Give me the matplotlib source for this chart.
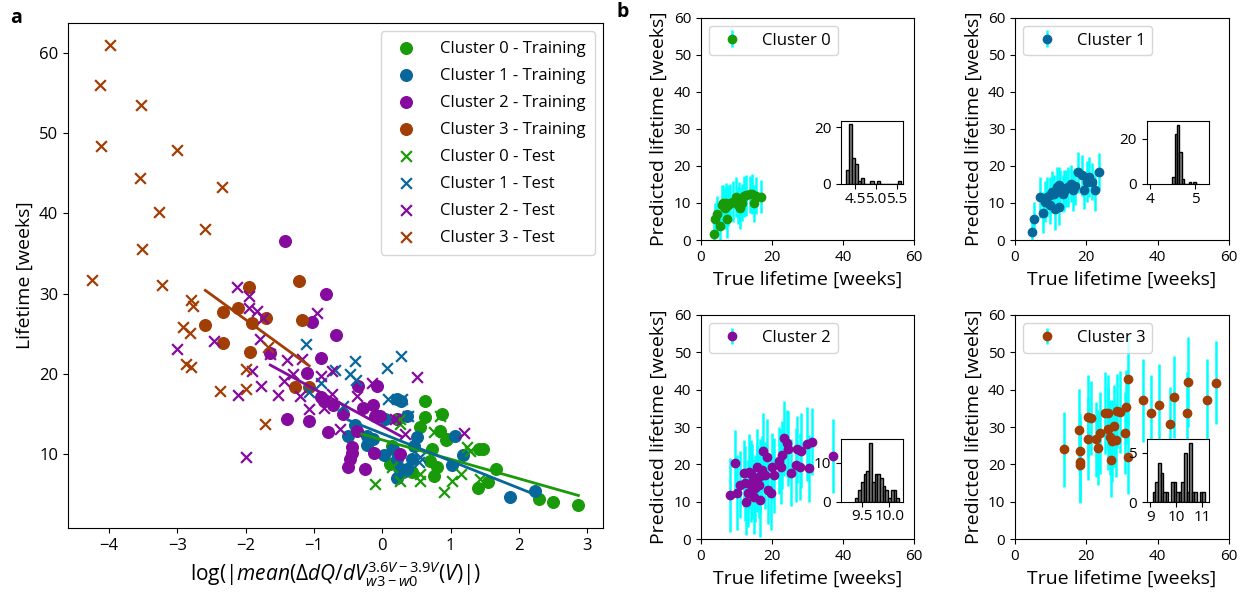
import numpy as np
import matplotlib
matplotlib.use("Agg")
import matplotlib.pyplot as plt

plt.rcParams["font.family"] = ["Open Sans", "DejaVu Sans"]
plt.rcParams["mathtext.fontset"] = "custom"
plt.rcParams["mathtext.rm"] = "Open Sans"
plt.rcParams["mathtext.it"] = "Open Sans:italic"

colors = ["#199a08", "#08679a", "#850a9e", "#a13e05"]

# ---- panel a: training / test points per cluster ----
c0_train_x = [0.62, 0.87, 0.63, 0.55, 0.85, 0.93, 0.73, 1.48, 0.11, 0.43, 0.70, 0.80, 0.75, 1.67, 1.55, 1.40, 2.30, 2.50, 2.87, 0.14, 1.41, 0.95]
c0_train_y = [16.65, 15.0, 14.6, 13.35, 12.9, 11.7, 10.65, 10.7, 8.8, 7.75, 9.2, 8.4, 7.3, 8.2, 6.5, 5.8, 4.4, 4.1, 3.7, 11.05, 10.6, 11.9]
c0_test_x = [-0.11, 0.26, 0.55, 0.55, 0.90, 1.02, 1.15, 1.24, 0.85, 0.75, 0.26, 0.14, 1.43, 1.29, 0.26]
c0_test_y = [6.3, 6.6, 6.6, 7.5, 5.3, 6.6, 7.5, 10.85, 14.8, 12.7, 13.75, 8.4, 6.9, 10.4, 14.4]

c1_train_x = [0.21, 0.28, 0.04, -0.06, 0.36, -0.23, -0.23, -0.13, 0.02, 0.16, 0.21, 0.24, 0.36, 0.21, 0.51, 1.07, 1.18, 1.02, 1.87, 2.24, -0.50, -0.40, 0.47, 0.43, 0.30]
c1_train_y = [16.9, 16.6, 14.4, 14.8, 14.7, 12.3, 11.1, 11.9, 9.9, 10.6, 9.4, 8.3, 8.2, 7.0, 12.1, 12.2, 9.9, 8.7, 4.65, 5.35, 12.3, 13.6, 11.0, 9.4, 7.8]
c1_test_x = [-1.11, -0.40, -0.69, -0.47, -0.38, -0.89, -1.08, -0.57, 0.27, 0.07, 0.09, 0.29, 0.38, 0.55, 0.53]
c1_test_y = [23.7, 21.6, 20.5, 20.0, 19.2, 18.9, 17.7, 16.0, 22.2, 20.7, 16.9, 16.9, 14.8, 9.6, 9.0]

c2_train_x = [-1.42, -1.65, -0.82, -1.03, -0.68, -0.89, -1.10, -1.40, -1.07, -0.79, -0.86, -0.72, -0.57, -0.28, -0.13, -0.35, -0.08, -0.11, -0.37, -0.45, -0.45, -0.47, -0.50, -0.25, -0.12, 0.26, 0.21, -0.03, -0.89]
c2_train_y = [36.6, 22.6, 30.0, 26.5, 24.9, 22.0, 20.1, 14.4, 14.1, 12.8, 16.6, 16.1, 15.0, 15.7, 16.1, 18.5, 18.5, 14.8, 12.9, 10.9, 10.2, 9.4, 8.4, 8.2, 10.2, 10.0, 14.4, 14.8, 17.1]
c2_test_x = [-2.12, -1.95, -1.95, -1.83, -1.75, -0.95, -2.46, -3.01, -1.79, -1.64, -1.40, -1.17, -1.90, -1.77, -2.11, -1.52, -1.44, -1.21, -1.08, -0.89, -0.74, -0.74, -0.86, -0.62, -0.37, -0.15, -2.00, -1.30, 0.51, 1.20, 0.33, 0.19]
c2_test_y = [30.8, 29.7, 28.2, 27.8, 26.9, 27.6, 24.1, 23.1, 24.3, 22.45, 21.7, 21.8, 20.4, 18.5, 17.4, 17.4, 19.1, 17.3, 15.6, 19.75, 20.4, 17.5, 15.8, 13.1, 17.3, 18.9, 9.7, 19.95, 19.6, 12.6, 12.5, 14.4]

c3_train_x = [-1.95, -1.22, -2.11, -2.33, -2.59, -1.90, -1.70, -1.17, -2.33, -1.94, -1.28, -1.08]
c3_train_y = [30.8, 31.6, 28.2, 27.75, 26.05, 26.3, 27.0, 26.7, 23.9, 22.7, 18.3, 18.4]
c3_test_x = [-3.98, -4.13, -3.53, -4.11, -3.00, -3.54, -2.34, -3.27, -2.59, -3.52, -4.25, -3.23, -2.80, -2.77, -2.91, -2.82, -2.87, -2.80, -2.37, -1.99, -1.99, -1.72, -1.68]
c3_test_y = [61.0, 56.0, 53.5, 48.4, 47.9, 44.4, 43.3, 40.2, 38.0, 35.6, 31.7, 31.1, 29.2, 28.4, 25.8, 25.1, 21.2, 20.8, 17.9, 20.6, 18.1, 13.8, 23.3]

# regression lines (end points)
fit_x = [[-0.30, 2.87], [-0.50, 2.21], [-1.64, 0.29], [-2.59, -1.07]]
fit_y = [[12.5, 4.85], [14.25, 5.05], [21.1, 12.15], [30.4, 21.0]]

# ---- panel b: true vs predicted lifetime ----
b0_true = [3.6, 4.05, 4.5, 5.3, 5.9, 6.4, 6.9, 7.5, 7.8, 8.3, 9.05, 10.0, 10.65, 11.1, 11.6, 12.1, 12.8, 13.8, 14.4, 14.9, 15.5, 17.0, 7.2, 10.4]
b0_pred = [1.5, 5.55, 7.0, 3.85, 9.4, 9.85, 8.5, 5.55, 9.4, 10.0, 10.3, 11.6, 10.75, 8.5, 10.0, 11.8, 12.1, 12.3, 12.4, 9.85, 12.0, 11.65, 10.0, 9.4]
b0_err = [3.5, 4.5, 5.0, 4.5, 5.5, 5.0, 5.5, 5.0, 5.5, 5.0, 5.5, 5.5, 5.0, 5.5, 5.0, 5.5, 5.5, 5.0, 5.5, 5.0, 5.0, 4.5, 5.5, 5.0]

b1_true = [4.7, 5.3, 7.75, 7.0, 8.9, 9.8, 10.3, 10.9, 11.7, 12.2, 12.6, 13.4, 13.7, 14.3, 14.95, 15.6, 16.2, 16.8, 17.8, 18.7, 19.35, 20.1, 20.8, 21.5, 22.4, 23.65, 9.8, 11.2, 12.2, 8.4]
b1_pred = [2.1, 5.8, 7.35, 11.5, 11.6, 12.1, 13.0, 12.5, 14.3, 14.8, 13.4, 12.5, 13.3, 13.9, 14.3, 15.2, 13.4, 14.5, 18.3, 17.5, 13.4, 15.7, 17.0, 15.7, 13.4, 18.4, 9.4, 8.25, 8.95, 10.3]
b1_err = [4.0, 4.5, 5.5, 5.5, 5.5, 5.0, 5.5, 5.0, 5.5, 5.0, 5.5, 5.0, 5.5, 5.0, 5.5, 5.0, 5.5, 5.0, 5.5, 5.5, 5.0, 5.5, 5.5, 5.0, 5.5, 5.0, 5.0, 5.5, 5.0, 5.5]

b2_true = [8.3, 9.7, 10.2, 11.1, 12.55, 12.8, 13.5, 14.2, 14.9, 15.4, 15.9, 16.3, 16.8, 17.3, 17.6, 18.2, 18.7, 18.9, 19.8, 20.1, 20.6, 22.0, 22.5, 22.9, 23.4, 24.4, 24.5, 25.3, 26.7, 27.2, 28.1, 27.85, 30.5, 30.0, 31.2, 37.1, 12.1, 14.4, 15.7, 16.6, 13.2, 14.0]
b2_pred = [11.8, 20.3, 12.4, 14.5, 14.9, 10.0, 18.0, 17.4, 11.3, 13.6, 19.4, 14.5, 10.45, 18.5, 23.7, 17.1, 22.05, 13.1, 12.4, 19.4, 17.1, 21.0, 19.4, 22.5, 27.0, 25.6, 24.2, 17.8, 19.8, 24.0, 23.7, 19.4, 18.9, 25.45, 26.1, 22.2, 17.6, 15.35, 16.3, 16.9, 12.2, 14.5]
b2_err = [10, 9, 10, 9, 10, 9, 10, 9, 10, 9, 10, 9, 10, 9, 10, 9, 10, 9, 10, 9, 10, 9, 10, 9, 10, 9, 10, 9, 10, 9, 10, 9, 9, 10, 9, 10, 9, 10, 9, 10, 9, 10]

b3_true = [13.7, 17.95, 18.2, 18.2, 18.2, 20.6, 21.3, 20.6, 22.7, 23.8, 23.4, 25.2, 26.2, 26.2, 26.6, 27.1, 28.3, 27.8, 28.5, 29.5, 26.8, 30.85, 31.1, 31.8, 31.8, 35.8, 38.1, 40.4, 43.5, 44.5, 48.2, 48.6, 53.8, 56.3]
b3_pred = [24.0, 29.2, 23.6, 20.7, 19.8, 32.8, 32.4, 26.7, 26.7, 28.3, 24.5, 33.7, 33.8, 29.4, 27.2, 26.3, 26.5, 30.3, 34.3, 34.0, 21.2, 28.3, 35.4, 42.9, 22.05, 37.1, 33.8, 35.8, 30.7, 38.1, 33.8, 42.0, 37.2, 41.9]
b3_err = [10, 11, 10, 11, 10, 11, 10, 11, 10, 11, 10, 11, 10, 11, 10, 11, 10, 11, 10, 11, 10, 11, 10, 12, 10, 11, 10, 11, 10, 11, 11, 12, 11, 11]

# inset histograms: first bin edge, bin width, counts
h0_start, h0_width = 4.27, 0.0744
h0_counts = [5, 21, 9, 7, 1, 2, 0, 0, 1, 0, 1, 0, 0, 0, 0, 0, 0, 1]
h1_start, h1_width = 4.49, 0.052
h1_counts = [3, 22, 26, 14, 2, 0, 0, 1, 0, 1, 0]
h2_start, h2_width = 9.39, 0.049
h2_counts = [1, 3, 5, 7, 8, 15, 5, 7, 7, 6, 4, 3, 1, 3, 3, 1]
h3_start, h3_width = 9.1, 0.1
h3_counts = [1, 2, 4, 3, 1, 1, 0, 2, 2, 1, 1, 2, 5, 1, 6, 1, 1, 0, 1, 1]

fig = plt.figure(figsize=(12.5, 5.96), dpi=100)

# ---------------- panel a ----------------
ax = fig.add_axes([0.0544, 0.1141, 0.428, 0.8473])
train = [(c0_train_x, c0_train_y), (c1_train_x, c1_train_y), (c2_train_x, c2_train_y), (c3_train_x, c3_train_y)]
test = [(c0_test_x, c0_test_y), (c1_test_x, c1_test_y), (c2_test_x, c2_test_y), (c3_test_x, c3_test_y)]
for i, (xs, ys) in enumerate(train):
    ax.scatter(xs, ys, s=70, color=colors[i], label="Cluster %d - Training" % i)
for i, (xs, ys) in enumerate(test):
    ax.scatter(xs, ys, s=60, marker="x", linewidths=1.6, color=colors[i], label="Cluster %d - Test" % i)
for i in range(4):
    ax.plot(fit_x[i], fit_y[i], color=colors[i], lw=2)
ax.set_xlim(-4.6, 3.23)
ax.set_ylim(0.8, 63.7)
ax.set_xticks([-4, -3, -2, -1, 0, 1, 2, 3])
ax.set_yticks([10, 20, 30, 40, 50, 60])
ax.tick_params(labelsize=12)
ax.set_ylabel("Lifetime [weeks]", fontsize=14)
ax.set_xlabel(r"log$(|mean(\Delta dQ/dV^{3.6V-3.9V}_{w3-w0}(V)|)$", fontsize=15)
ax.legend(loc="upper right", fontsize=12, labelspacing=0.66, borderpad=0.55, handletextpad=1.0)
fig.text(0.008, 0.962, "a", fontsize=14, fontweight="bold")
fig.text(0.493, 0.972, "b", fontsize=14, fontweight="bold")

# ---------------- panel b ----------------
b_data = [(b0_true, b0_pred, b0_err), (b1_true, b1_pred, b1_err),
          (b2_true, b2_pred, b2_err), (b3_true, b3_pred, b3_err)]
b_pos = [[0.5606, 0.5973, 0.1706, 0.3733], [0.812, 0.5973, 0.1712, 0.3733],
         [0.5606, 0.0956, 0.1706, 0.3759], [0.812, 0.0956, 0.1712, 0.3759]]
hists = [(h0_start, h0_width, h0_counts), (h1_start, h1_width, h1_counts),
         (h2_start, h2_width, h2_counts), (h3_start, h3_width, h3_counts)]
inset_pos = [[0.6728, 0.6913, 0.0498, 0.1057], [0.9174, 0.6913, 0.0501, 0.1062],
             [0.6728, 0.1582, 0.0498, 0.1047], [0.9174, 0.1572, 0.0501, 0.1057]]
inset_xlim = [(4.15, 5.66), (3.93, 5.31), (9.13, 10.25), (8.87, 11.28)]
inset_ylim = [(0, 22.2), (0, 27.9), (0, 16.0), (0, 6.36)]
inset_xticks = [[4.5, 5.0, 5.5], [4, 5], [9.5, 10.0], [9, 10, 11]]
inset_yticks = [[0, 20], [0, 20], [0, 10], [0, 5]]

for i in range(4):
    bx = fig.add_axes(b_pos[i])
    t, p, e = b_data[i]
    bx.errorbar(t, p, yerr=e, fmt="o", color=colors[i], ms=6, ecolor="cyan",
                elinewidth=1.8, label="Cluster %d" % i)
    bx.set_xlim(0, 60)
    bx.set_ylim(0, 60)
    bx.set_xticks([0, 20, 40, 60])
    bx.set_yticks([0, 10, 20, 30, 40, 50, 60])
    bx.tick_params(labelsize=11)
    bx.set_xlabel("True lifetime [weeks]", fontsize=14)
    bx.set_ylabel("Predicted lifetime [weeks]", fontsize=14)
    bx.legend(loc="upper left", fontsize=12)

    ins = fig.add_axes(inset_pos[i])
    start, width, counts = hists[i]
    edges = start + width * np.arange(len(counts) + 1)
    centers = edges[:-1] + width / 2
    ins.hist(centers, bins=edges, weights=counts, color="grey", edgecolor="black", linewidth=1)
    ins.set_xlim(inset_xlim[i])
    ins.set_ylim(inset_ylim[i])
    ins.set_xticks(inset_xticks[i])
    ins.set_yticks(inset_yticks[i])
    ins.tick_params(labelsize=11)
    ins.tick_params(axis="x", pad=2)

fig.savefig("out.png", dpi=100)
